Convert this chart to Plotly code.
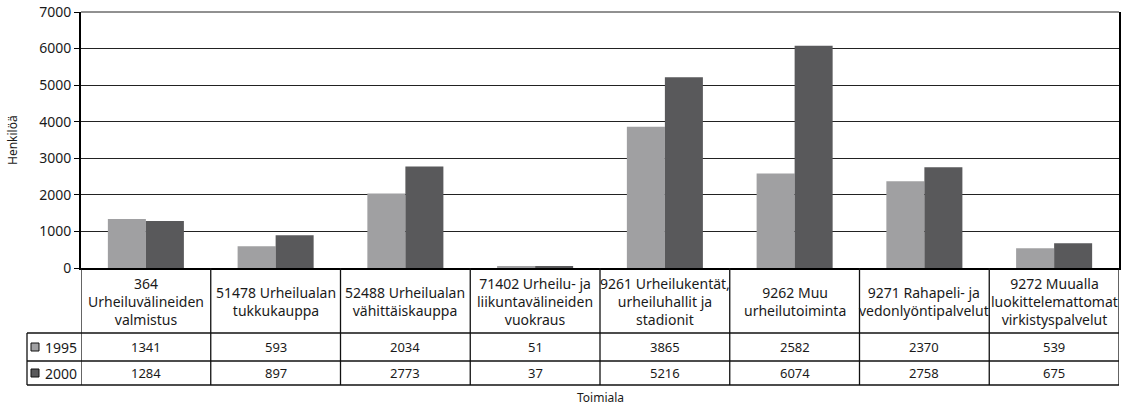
import plotly.graph_objects as go

categories = [
    "364<br>Urheiluvälineiden<br>valmistus",
    "51478 Urheilualan<br>tukkukauppa",
    "52488 Urheilualan<br>vähittäiskauppa",
    "71402 Urheilu- ja<br>liikuntavälineiden<br>vuokraus",
    "9261 Urheilukentät,<br>urheiluhallit ja<br>stadionit",
    "9262 Muu<br>urheilutoiminta",
    "9271 Rahapeli- ja<br>vedonlyöntipalvelut",
    "9272 Muualla<br>luokittelemattomat<br>virkistyspalvelut",
]
series_names = ["1995", "2000"]
values_1995 = [1341, 593, 2034, 51, 3865, 2582, 2370, 539]
values_2000 = [1284, 897, 2773, 37, 5216, 6074, 2758, 675]
y_ticks = [0, 1000, 2000, 3000, 4000, 5000, 6000, 7000]

colors = ["#a0a0a2", "#59595b"]
FONT = "Noto Sans"
TXT = "#1a1a1a"

W, H = 1130, 407
L, R, T, B = 81, 1119, 12, 268


def px(x):
    return (x - L) / (R - L)


def py(y):
    return (B - y) / (B - T)


xs = list(range(len(categories)))
fig = go.Figure()
for name, vals, col in zip(series_names, [values_1995, values_2000], colors):
    fig.add_trace(go.Bar(x=xs, y=vals, name=name, marker=dict(color=col, line=dict(width=0)),
                         showlegend=False))

shapes = []
annotations = []
row_top, row1, row2, row_bot = 268, 333, 361, 385
legend_left = 27
line = dict(color="#111", width=1.3)

# vertical lines of the table
for i in range(len(categories) + 1):
    shapes.append(dict(type="line", xref="x", yref="paper", x0=i - 0.5, x1=i - 0.5,
                       y0=py(row_top), y1=py(row_bot), line=line))
# legend column left border
shapes.append(dict(type="line", xref="paper", yref="paper", x0=px(legend_left), x1=px(legend_left),
                   y0=py(row1), y1=py(row_bot), line=line))
# horizontal lines
for yy in (row1, row2, row_bot):
    shapes.append(dict(type="line", xref="paper", yref="paper", x0=px(legend_left), x1=1,
                       y0=py(yy), y1=py(yy), line=line))

# header texts
for i, c in enumerate(categories):
    annotations.append(dict(x=i, y=py((row_top + row1) / 2 + 1), xref="x", yref="paper",
                            text=c, showarrow=False, xanchor="center", yanchor="middle",
                            font=dict(family=FONT, size=14, color=TXT)))
# values rows
for r, (vals, yc) in enumerate(zip([values_1995, values_2000], [(row1 + row2) / 2, (row2 + row_bot) / 2])):
    for i, v in enumerate(vals):
        annotations.append(dict(x=i, y=py(yc), xref="x", yref="paper", text=str(v),
                                showarrow=False, xanchor="center", yanchor="middle",
                                font=dict(family=FONT, size=13, color=TXT)))
    # legend key
    shapes.append(dict(type="rect", xref="paper", yref="paper",
                       x0=px(31), x1=px(39), y0=py(yc - 4), y1=py(yc + 4),
                       fillcolor=colors[r], line=dict(color="#111", width=1)))
    annotations.append(dict(x=px(43), y=py(yc), xref="paper", yref="paper", text=series_names[r],
                            showarrow=False, xanchor="left", yanchor="middle",
                            font=dict(family=FONT, size=14, color=TXT)))

# axis titles
annotations.append(dict(x=px(12), y=0.5, xref="paper", yref="paper", text="Henkilöä",
                        textangle=-90, showarrow=False, xanchor="center", yanchor="middle",
                        font=dict(family=FONT, size=12, color=TXT)))
annotations.append(dict(x=0.5, y=py(397), xref="paper", yref="paper", text="Toimiala",
                        showarrow=False, xanchor="center", yanchor="middle",
                        font=dict(family=FONT, size=12, color=TXT)))

fig.update_layout(
    width=W, height=H,
    margin=dict(l=L, r=W - R, t=T, b=H - B, autoexpand=False),
    paper_bgcolor="white", plot_bgcolor="white",
    barmode="group", bargap=0.414, bargroupgap=0,
    font=dict(family=FONT, color=TXT),
    shapes=shapes, annotations=annotations,
    xaxis=dict(range=[-0.5, len(categories) - 0.5], showticklabels=False, ticks="",
               showgrid=False, zeroline=False, showline=True, linecolor="#000", linewidth=2,
               mirror=False, fixedrange=True),
    yaxis=dict(range=[0, 7000], tickvals=y_ticks, ticks="outside", ticklen=5,
               tickcolor="#000", tickwidth=1, showgrid=True, gridcolor="#222", gridwidth=1,
               zeroline=False, showline=True, linecolor="#000", linewidth=2, mirror=True,
               tickfont=dict(family=FONT, size=14, color=TXT), fixedrange=True),
)
fig.add_shape(type="line", xref="paper", yref="paper", x0=0, x1=1, y0=1, y1=1,
              line=dict(color="#222", width=1))

fig.write_html("out.html", config={"displayModeBar": False},
               post_script="document.body.style.margin='0';document.body.style.overflow='hidden';")
